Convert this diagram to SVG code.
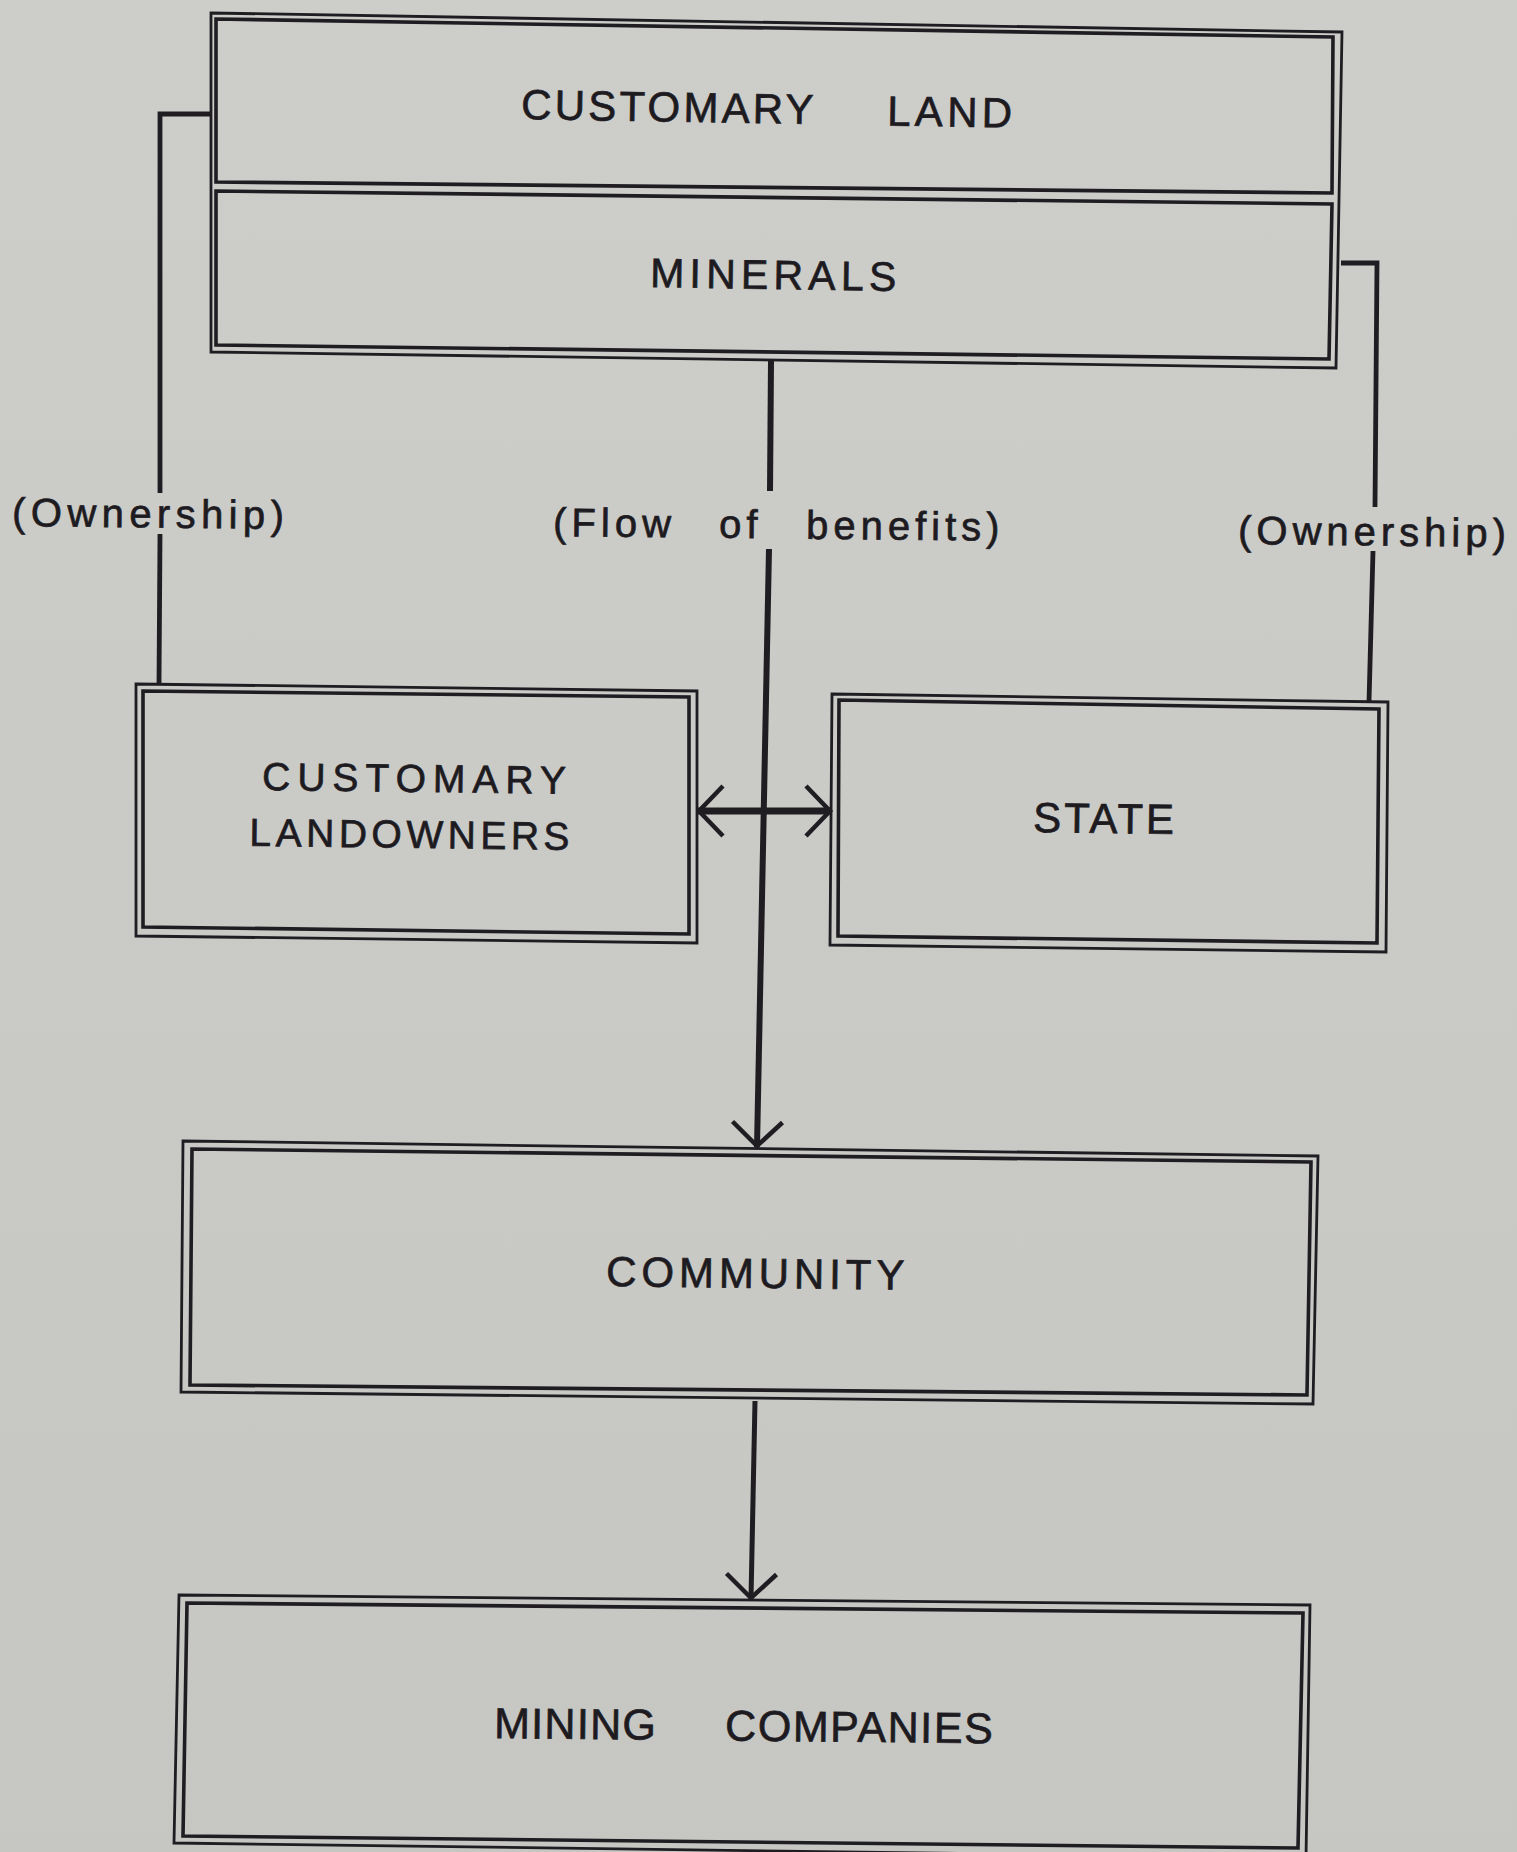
<svg xmlns="http://www.w3.org/2000/svg" width="1517" height="1852" viewBox="0 0 1517 1852">
<style>
  .paper { fill: url(#paperGrad); }
  .outer { fill: none; stroke: #1f1d22; stroke-width: 2.8; stroke-linejoin: miter; }
  .inner { fill: none; stroke: #1f1d22; stroke-width: 3.6; stroke-linejoin: miter; }
  .lbl { font-family: "Liberation Sans", Arial, sans-serif; fill: #1d1b1f; stroke: #1d1b1f; stroke-width: 0.7; }
  .conn { fill: none; stroke: #1f1d22; stroke-linecap: butt; }
</style>
<defs>
  <linearGradient id="paperGrad" x1="0" y1="0" x2="0" y2="1">
    <stop offset="0" stop-color="#cdcdca"/>
    <stop offset="1" stop-color="#c6c6c3"/>
  </linearGradient>
  <marker id="arrow" markerUnits="userSpaceOnUse" markerWidth="60" markerHeight="60" viewBox="-30 -30 60 60" refX="1" refY="0" orient="auto-start-reverse" overflow="visible">
    <path d="M-24,-25 L0,0 L-24,25" fill="none" stroke="#1f1d22" stroke-width="4.5"/>
  </marker>
</defs>

<rect class="paper" x="0" y="0" width="1517" height="1852"/>

<g id="node-land-minerals">
  <polygon class="outer" points="211,13 1342,32 1336,368 211,352"/>
  <g id="node-customary-land">
    <polygon class="inner" points="216,19 1333,37 1332,193 216,182"/>
    <text class="lbl" font-size="42" transform="rotate(1 521 119)"><tspan x="521" y="119" letter-spacing="3.2">CUSTOMARY</tspan> <tspan x="887" y="119" letter-spacing="4.3">LAND</tspan></text>
  </g>
  <g id="node-minerals">
    <polygon class="inner" points="216,191 1332,204 1329,359 216,345"/>
    <text class="lbl" font-size="41" letter-spacing="5.2" x="650" y="287" transform="rotate(0.9 650 287)">MINERALS</text>
  </g>
</g>

<g id="node-customary-landowners">
  <polygon class="outer" points="136,684 697,691 697,943 136,936"/>
  <polygon class="inner" points="143,691 689,697 689,934 143,927"/>
  <text class="lbl" font-size="39" transform="rotate(0.7 262 790)"><tspan x="262" y="790" letter-spacing="7">CUSTOMARY</tspan><tspan x="250" y="846" letter-spacing="4.5">LANDOWNERS</tspan></text>
</g>

<g id="node-state">
  <polygon class="outer" points="832,694 1388,702 1386,952 830,945"/>
  <polygon class="inner" points="839,700 1379,709 1377,943 838,936"/>
  <text class="lbl" font-size="42" letter-spacing="2.9" x="1033" y="832" transform="rotate(0.8 1033 832)">STATE</text>
</g>

<g id="node-community">
  <polygon class="outer" points="183,1141 1318,1156 1313,1404 181,1392"/>
  <polygon class="inner" points="192,1149 1311,1162 1307,1395 190,1385"/>
  <text class="lbl" font-size="42" letter-spacing="4.9" x="606" y="1286" transform="rotate(0.7 606 1286)">COMMUNITY</text>
</g>

<g id="node-mining-companies">
  <polygon class="outer" points="179,1595 1310,1605 1306,1858 174,1843"/>
  <polygon class="inner" points="187,1603 1303,1613 1298,1848 183,1836"/>
  <text class="lbl" font-size="43" transform="rotate(0.6 494 1738)"><tspan x="494" y="1738" letter-spacing="1.3">MINING</tspan> <tspan x="725" y="1738" letter-spacing="1.6">COMPANIES</tspan></text>
</g>

<g id="connectors">
  <path class="conn" stroke-width="4.8" d="M211,114 H160 V493"/>
  <path class="conn" stroke-width="4.8" d="M160,534 L159,684"/>
  <path class="conn" stroke-width="4.8" d="M1341,263 H1377 L1375,507"/>
  <path class="conn" stroke-width="4.8" d="M1373,551 L1369,702"/>
  <path class="conn" stroke-width="6" d="M771,361 L770,491"/>
  <path class="conn" stroke-width="6" d="M769,549 L757,1147" marker-end="url(#arrow)"/>
  <path class="conn" stroke-width="7" d="M698,811 L831,811" marker-start="url(#arrow)" marker-end="url(#arrow)"/>
  <path class="conn" stroke-width="5" d="M755,1401 L751,1599" marker-end="url(#arrow)"/>
</g>

<g id="labels">
  <text class="lbl" font-size="40" letter-spacing="5.4" x="12" y="526" transform="rotate(0.6 12 526)">(Ownership)</text>
  <text class="lbl" font-size="40" letter-spacing="5" transform="rotate(0.6 553 536)"><tspan x="553" y="536">(Flow</tspan> <tspan x="719" y="536">of</tspan> <tspan x="806" y="536">benefits)</tspan></text>
  <text class="lbl" font-size="40" letter-spacing="5" x="1238" y="544" transform="rotate(0.6 1238 544)">(Ownership)</text>
</g>
</svg>
